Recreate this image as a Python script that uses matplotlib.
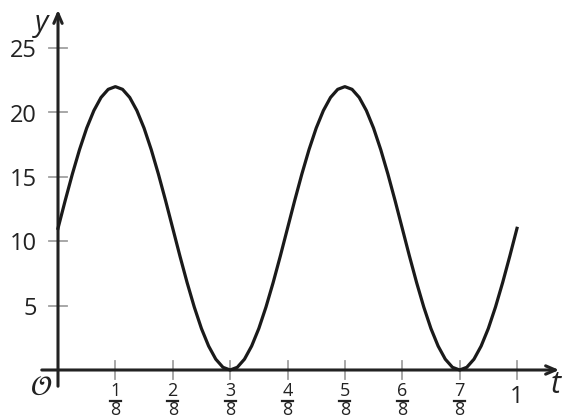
import numpy as np
import matplotlib.pyplot as plt

plt.rcParams['font.family'] = ['Open Sans', 'DejaVu Sans']

# curve, t in steps of 1/64
t_vals = np.arange(65) / 64
y_half = [11.0, 13.15, 15.21, 17.11, 18.78, 20.14, 21.16, 21.79, 22.0,
          21.79, 21.16, 20.14, 18.78, 17.11, 15.21, 13.15, 11.0,
          8.85, 6.79, 4.89, 3.22, 1.86, 0.84, 0.21, 0.0,
          0.21, 0.84, 1.86, 3.22, 4.89, 6.79, 8.85]
y_vals = y_half + y_half + [11.0]

y_ticks = [5, 10, 15, 20, 25]
x_ticks = [1/8, 2/8, 3/8, 4/8, 5/8, 6/8, 7/8, 1]
x_nums = ['1', '2', '3', '4', '5', '6', '7']

W, H = 563, 420
x0px, x1px = 58, 517
y0px, y25px = 370, 48
sx = x1px - x0px
sy = (y0px - y25px) / 25

def tx(px):
    return (px - x0px) / sx

def ty(py):
    return (y0px - py) / sy

fig = plt.figure(figsize=(W/100, H/100), dpi=100)
ax = fig.add_axes([0, 0, 1, 1])
ax.set_xlim(tx(0), tx(W))
ax.set_ylim(ty(H), ty(0))
ax.axis('off')

axc = '#222222'
tc = '#a0a0a0'

# ticks
for v in y_ticks:
    ax.plot([tx(49), tx(67)], [v, v], color=tc, lw=1.3, zorder=1)
    ax.text(tx(37), v - 0.25, str(v), ha='right', va='center', fontsize=17, color='#222222')
for v in x_ticks:
    ax.plot([v, v], [ty(361), ty(379)], color=tc, lw=1.3, zorder=1)

# fraction labels
for v, n in zip(x_ticks[:-1], x_nums):
    ax.text(v, ty(391), n, ha='center', va='center', fontsize=13, color='#222222')
    ax.plot([v - 5.5/sx, v + 5.5/sx], [ty(400.5), ty(400.5)], color='#222222', lw=1.6)
    ax.text(v, ty(410), '8', ha='center', va='center', fontsize=13, color='#222222')
ax.text(1, ty(397), '1', ha='center', va='center', fontsize=17, color='#222222')

# axes with arrows
ax.annotate('', xy=(tx(562), 0), xytext=(tx(39), 0),
            arrowprops=dict(arrowstyle='->,head_length=0.7,head_width=0.3', color=axc, lw=2.2))
ax.annotate('', xy=(0, ty(7)), xytext=(0, ty(389)),
            arrowprops=dict(arrowstyle='->,head_length=0.7,head_width=0.3', color=axc, lw=2.2))

ax.text(tx(41), ty(24), 'y', fontsize=21, style='italic', ha='center', va='center', color='#222222')
ax.text(tx(556), ty(385), 't', fontsize=22, style='italic', ha='center', va='center', color='#222222')
ax.text(tx(41), ty(388), r'$\mathcal{O}$', fontsize=20, math_fontfamily='stix',
        ha='center', va='center', color='#222222')

ax.plot(t_vals, y_vals, color='#1a1a1a', lw=2.3, zorder=3)

fig.savefig('out.png', dpi=100)
